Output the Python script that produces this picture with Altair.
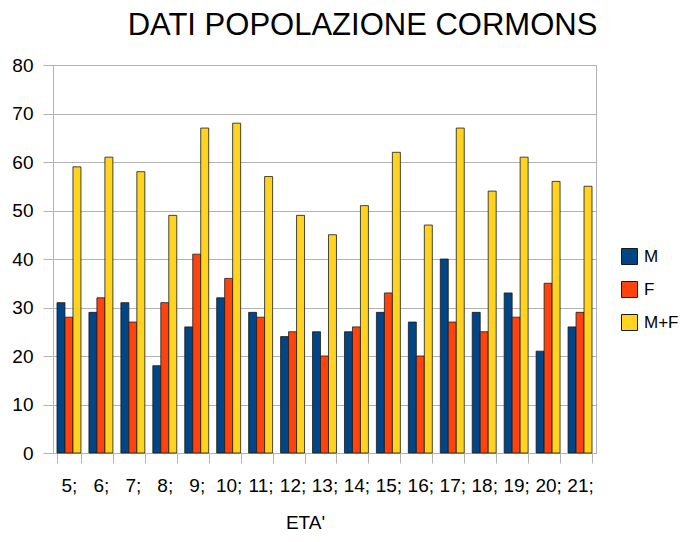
import altair as alt
import pandas as pd

ages = ["5;", "6;", "7;", "8;", "9;", "10;", "11;", "12;", "13;", "14;", "15;", "16;", "17;", "18;", "19;", "20;", "21;"]
m_vals = [31, 29, 31, 18, 26, 32, 29, 24, 25, 25, 29, 27, 40, 29, 33, 21, 26]
f_vals = [28, 32, 27, 31, 41, 36, 28, 25, 20, 26, 33, 20, 27, 25, 28, 35, 29]
mf_vals = [59, 61, 58, 49, 67, 68, 57, 49, 45, 51, 62, 47, 67, 54, 61, 56, 55]
series = ["M", "F", "M+F"]
colors = ["#004586", "#ff420e", "#ffd320"]

rows = []
for name, vals in zip(series, [m_vals, f_vals, mf_vals]):
    for a, v in zip(ages, vals):
        rows.append({"eta": a, "serie": name, "valore": v})
df = pd.DataFrame(rows)

FONT = "Liberation Sans"
GRID = "#b3b3b3"

chart = alt.Chart(df).mark_bar(stroke="#1a1a1a", strokeWidth=0.8).encode(
    x=alt.X("eta:N", sort=ages, title="ETA'",
            scale=alt.Scale(paddingInner=0.25, paddingOuter=0.125),
            axis=alt.Axis(labelAngle=0, tickBand="extent", tickSize=10, tickColor=GRID,
                          domainColor=GRID, labelFont=FONT, labelFontSize=19, labelColor="black",
                          labelPadding=13, labelOverlap=False, grid=False,
                          titleFont=FONT, titleFontSize=19, titleFontWeight="normal", titleColor="black",
                          titleX=252, titleY=75, titleBaseline="alphabetic", titleAlign="center")),
    xOffset=alt.XOffset("serie:N", sort=series, scale=alt.Scale(paddingInner=0, paddingOuter=0)),
    y=alt.Y("valore:Q", title=None, scale=alt.Scale(domain=[0, 80], nice=False),
            axis=alt.Axis(values=[0, 10, 20, 30, 40, 50, 60, 70, 80], gridColor=GRID, domainColor=GRID,
                          tickColor=GRID, tickSize=10, labelFont=FONT, labelFontSize=19,
                          labelColor="black", labelPadding=10)),
    color=alt.Color("serie:N", sort=series, scale=alt.Scale(domain=series, range=colors),
                    legend=alt.Legend(title=None, orient="none", legendX=568, legendY=183,
                                      symbolType="square", symbolSize=256, symbolStrokeColor="#1a1a1a",
                                      symbolStrokeWidth=1, labelFont=FONT, labelFontSize=17,
                                      labelColor="black", rowPadding=12, labelOffset=6, padding=0)),
).properties(
    width=543,
    height=388,
    title=alt.TitleParams("DATI POPOLAZIONE CORMONS", font=FONT, fontSize=31, fontWeight="normal",
                          color="black", anchor="middle", dx=38, baseline="bottom", offset=-17),
    padding={"left": 45, "top": 57, "right": 85, "bottom": 80},
    autosize=alt.AutoSizeParams(type="none"),
).configure_view(stroke=GRID)

chart.save("out.html", embed_options={"renderer": "svg", "actions": False})
